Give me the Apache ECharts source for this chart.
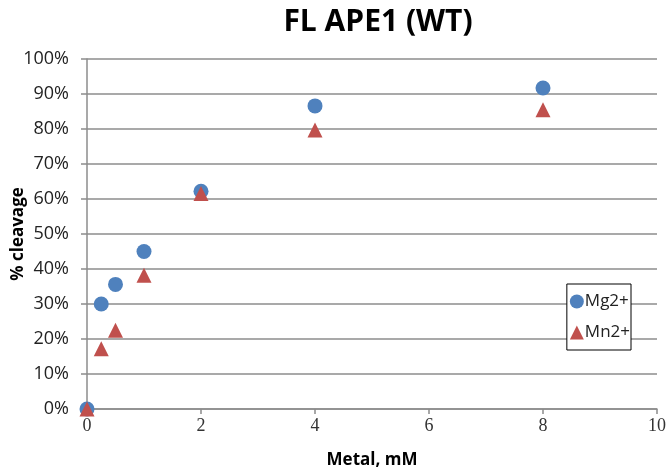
<!DOCTYPE html>
<html><head><meta charset="utf-8">
<script src="https://cdn.jsdelivr.net/npm/echarts@6/dist/echarts.min.js"></script>
<style>html,body{margin:0;padding:0;background:#fff}#c{width:666px;height:468px}</style>
</head><body><div id="c"></div>
<script>
const metalMM = [0, 0.25, 0.5, 1, 2, 4, 8];
const mgValues = [0, 30, 35.6, 45, 62.2, 86.6, 91.7];
const mnValues = [0, 17.2, 22.5, 38.2, 61.6, 79.7, 85.5];
const seriesNames = ['Mg2+', 'Mn2+'];
const xTicks = [0, 2, 4, 6, 8, 10];
const yTicks = [0, 10, 20, 30, 40, 50, 60, 70, 80, 90, 100];

const chart = echarts.init(document.getElementById('c'));
const pair = (xs, ys) => xs.map((x, i) => [x, ys[i]]);
chart.setOption({
  animation: false,
  backgroundColor: '#fff',
  title: {
    text: 'FL APE1 (WT)', left: 373, top: 2, textAlign: 'center',
    textStyle: {fontFamily: 'Open Sans', fontWeight: 'bold', fontSize: 30, color: '#000'}
  },
  grid: {left: 87, right: 9, top: 59, bottom: 59, containLabel: false, outerBoundsMode: 'none'},
  legend: {
    right: 35, top: 284, orient: 'vertical', itemGap: 14,
    itemWidth: 14, itemHeight: 14, padding: [9, 1, 9, 3],
    borderColor: '#000', borderWidth: 1, backgroundColor: '#fff',
    textStyle: {fontFamily: 'Open Sans', fontSize: 17, color: '#222', padding: [0, 0, 0, -4]},
    data: [{name: seriesNames[0], icon: 'circle'}, {name: seriesNames[1], icon: 'triangle'}]
  },
  xAxis: {
    type: 'value', min: 0, max: 10, interval: 2,
    name: 'Metal, mM', nameLocation: 'middle', nameGap: 43,
    nameTextStyle: {fontFamily: 'Open Sans', fontWeight: 'bold', fontSize: 17, color: '#000'},
    axisLine: {show: true, lineStyle: {color: '#8c8c8c', width: 1.5}},
    axisTick: {show: true, length: 5, inside: false, lineStyle: {color: '#8c8c8c', width: 1.5}},
    axisLabel: {fontFamily: 'Liberation Serif', fontSize: 18, color: '#333', margin: 8},
    splitLine: {show: false}
  },
  yAxis: {
    type: 'value', min: 0, max: 100, interval: 10,
    name: '% cleavage', nameLocation: 'middle', nameGap: 60, nameRotate: 90, nameMoveOverlap: false,
    nameTextStyle: {fontFamily: 'Open Sans', fontWeight: 'bold', fontSize: 17, color: '#000'},
    axisLine: {show: true, lineStyle: {color: '#8c8c8c', width: 1.5}},
    axisTick: {show: true, length: 6, lineStyle: {color: '#8c8c8c', width: 1.5}},
    axisLabel: {fontFamily: 'Open Sans', fontSize: 18, color: '#222', margin: 18, formatter: v => v + '%'},
    splitLine: {show: true, lineStyle: {color: '#8c8c8c', width: 1.5}}
  },
  series: [
    {name: seriesNames[0], type: 'scatter', symbol: 'circle', symbolSize: 15,
     itemStyle: {color: '#4F81BD', opacity: 1}, data: pair(metalMM, mgValues), z: 2},
    {name: seriesNames[1], type: 'scatter', symbol: 'triangle', symbolSize: 15,
     itemStyle: {color: '#C0504D', opacity: 1}, data: pair(metalMM, mnValues), z: 3}
  ]
});
</script></body></html>
